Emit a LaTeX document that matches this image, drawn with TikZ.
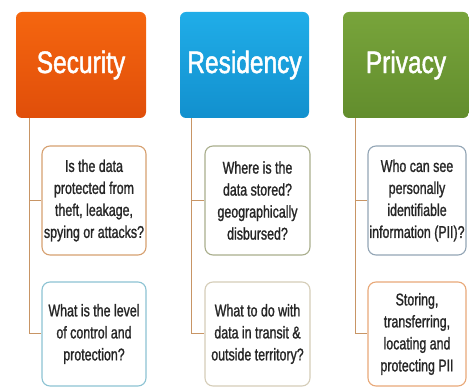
\documentclass[tikz,border=0pt]{standalone}
\usepackage{fontspec}
\setmainfont{Liberation Sans}[FakeStretch=0.73, FakeBold=1.2]
\newfontfamily\headfont{Liberation Sans}[FakeStretch=0.79, FakeBold=1.5]
\usetikzlibrary{positioning}

\definecolor{sectop}{HTML}{F5660F}
\definecolor{secbot}{HTML}{E04E0A}
\definecolor{restop}{HTML}{20ADE8}
\definecolor{resbot}{HTML}{1290CE}
\definecolor{privtop}{HTML}{78A43B}
\definecolor{privbot}{HTML}{628D2D}
\definecolor{linktan}{HTML}{C89565}
\definecolor{secqa}{HTML}{D6A070}
\definecolor{secqb}{HTML}{8CC3D3}
\definecolor{resqa}{HTML}{A9AE8C}
\definecolor{resqb}{HTML}{D5CDB8}
\definecolor{privqa}{HTML}{93A5B5}
\definecolor{privqb}{HTML}{E8A878}

\begin{document}
\begin{tikzpicture}[x=1pt, y=-1pt,
	head/.style={rounded corners=6pt, minimum width=130pt, minimum height=106pt, inner sep=0pt,
		text=white, font=\headfont\fontsize{31}{34}\selectfont},
	qbox/.style={draw, fill=white, rounded corners=8pt, line width=1.1pt, inner sep=0pt,
		minimum width=104pt, minimum height=109pt, align=center,
		text=black!85, font=\fontsize{17}{22}\selectfont},
	link/.style={draw=linktan, line width=1pt}]
	\useasboundingbox (0,0) rectangle (469,387);

	% 三个标题块
	\node[head, top color=sectop, bottom color=secbot] (sec) at (81,65) {Security};
	\node[head, top color=restop, bottom color=resbot, minimum width=129pt] (res) at (244.5,65) {Residency};
	\node[head, top color=privtop, bottom color=privbot, minimum width=126pt] (priv) at (406,65) {Privacy};

	% 问题框
	\node[qbox, draw=secqa] (secq1) at (94,200.5) {Is the data\\protected from\\theft, leakage,\\spying or attacks?};
	\node[qbox, draw=secqb, minimum height=104pt] (secq2) at (94,334) {What is the level\\of control and\\protection?};

	\node[qbox, draw=resqa, minimum width=105pt] (resq1) at (257.5,200.5) {Where is the\\data stored?\\geographically\\disbursed?};
	\node[qbox, draw=resqb, minimum width=105pt, minimum height=104pt] (resq2) at (257.5,334) {What to do with\\data in transit \&\\outside territory?};

	\node[qbox, draw=privqa, minimum width=98pt] (privq1) at (417,200.5) {Who can see\\personally\\identifiable\\information (PII)?};
	\node[qbox, draw=privqb, minimum width=98pt, minimum height=104pt] (privq2) at (417,334) {Storing,\\transferring,\\locating and\\protecting PII};

	% 连接线
	\coordinate (secl) at ([xshift=13.5pt]sec.south west);
	\draw[link] (secl) -- (secl |- secq2.west) -- (secq2.west);
	\draw[link] (secl |- secq1.west) -- (secq1.west);

	\coordinate (resl) at ([xshift=12pt]res.south west);
	\draw[link] (resl) -- (resl |- resq2.west) -- (resq2.west);
	\draw[link] (resl |- resq1.west) -- (resq1.west);

	\coordinate (privl) at ([xshift=13pt]priv.south west);
	\draw[link] (privl) -- (privl |- privq2.west) -- (privq2.west);
	\draw[link] (privl |- privq1.west) -- (privq1.west);
\end{tikzpicture}
\end{document}
